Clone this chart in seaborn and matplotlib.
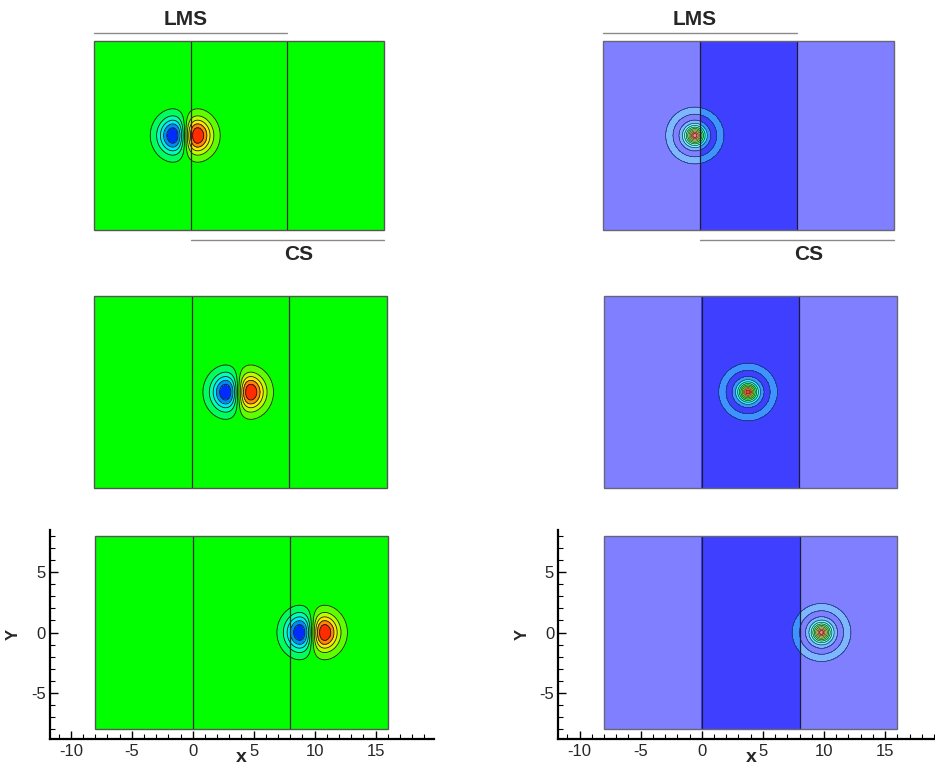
import numpy as np
import matplotlib
matplotlib.use("Agg")
import matplotlib.pyplot as plt
import seaborn as sns
from matplotlib.patches import Rectangle
from matplotlib.ticker import MultipleLocator

# Pulse centre (x) at the three output times, one row each
pulse_x = [-0.45, 3.8, 9.8]
pulse_y = [0.0, 0.0, 0.0]

# Computational domain and the two sub-domain interfaces
domain_x = [-8.0, 16.0]
domain_y = [-8.0, 8.0]
interfaces = [0.0, 8.0]

# Extent of the two solvers' sub-domains
lms_span = [-8.0, 8.0]
cs_span = [0.0, 16.0]
region_labels = ["LMS", "CS"]

x_ticks = [-10, -5, 0, 5, 10, 15]
y_ticks = [-5, 0, 5]

# Pulse shape parameters
dipole_width = 1.46
core_scale = 0.75
ring_amp = 0.15
ring_radius = 2.12
ring_width = 0.35

sns.set_theme(style="ticks")
plt.rcParams["font.family"] = ["Liberation Sans", "DejaVu Sans"]
plt.rcParams["axes.unicode_minus"] = False

rainbow = sns.blend_palette(["#0000ff", "#00ffff", "#00ff00", "#ffff00", "#ff0000"],
                            as_cmap=True)

W, H = 935, 767
fig = plt.figure(figsize=(W / 100, H / 100), dpi=100)

xlim = (-11.74, 19.77)
ylim = (-8.86, 8.53)

# pixel boxes of the domain rectangle for each panel (left, top, right, bottom)
boxes = {
    (0, 0): (94.0, 41.0, 384.0, 230.0),
    (1, 0): (94.3, 296.0, 387.0, 488.3),
    (2, 0): (95.3, 536.0, 387.7, 729.0),
    (0, 1): (603.3, 41.0, 894.3, 230.0),
    (1, 1): (604.0, 296.0, 897.0, 488.0),
    (2, 1): (604.0, 536.0, 897.3, 729.0),
}


def make_axes(box):
    x0, y0, x1, y1 = box
    sx = (x1 - x0) / (domain_x[1] - domain_x[0])
    sy = (y1 - y0) / (domain_y[1] - domain_y[0])
    left = x0 + (xlim[0] - domain_x[0]) * sx
    width = (xlim[1] - xlim[0]) * sx
    top = y0 - (ylim[1] - domain_y[1]) * sy
    height = (ylim[1] - ylim[0]) * sy
    ax = fig.add_axes([left / W, 1 - (top + height) / H, width / W, height / H])
    ax.set_xlim(*xlim)
    ax.set_ylim(*ylim)
    return ax, sy


xg = np.linspace(domain_x[0], domain_x[1], 721)
yg = np.linspace(domain_y[0], domain_y[1], 481)
X, Y = np.meshgrid(xg, yg)

dip_levels = np.linspace(-1, 1, 12)
ring_levels = np.linspace(0, 1, 11)

for row in range(3):
    cx, cy = pulse_x[row], pulse_y[row]
    dx, dy = X - cx, Y - cy
    r = np.hypot(dx, dy)

    # left column: dipole pulse
    ax, sy = make_axes(boxes[(row, 0)])
    f = dx * np.exp(-(dx ** 2 + dy ** 2) / dipole_width ** 2)
    f = f / (dipole_width / np.sqrt(2) * np.exp(-0.5))
    ax.contourf(X, Y, f, levels=dip_levels, cmap=rainbow, vmin=-1, vmax=1)
    ax.contour(X, Y, f, levels=dip_levels, colors="#1a1a1a", linewidths=0.6,
               linestyles="solid")
    for xi in interfaces:
        ax.plot([xi, xi], domain_y, color="#2a2a2a", lw=0.9)
    ax.add_patch(Rectangle((domain_x[0], domain_y[0]), domain_x[1] - domain_x[0],
                           domain_y[1] - domain_y[0], fill=False, ec="#555555",
                           lw=1.0, zorder=5))
    axes_row = [(ax, sy)]

    # right column: amplitude pulse with a weak outer ring
    ax2, sy2 = make_axes(boxes[(row, 1)])
    g = np.exp(-(r / core_scale) ** 1.5) + ring_amp * np.exp(
        -((r - ring_radius) / ring_width) ** 4) + 1e-6
    ax2.contourf(X, Y, g, levels=ring_levels, cmap=rainbow, vmin=0.05, vmax=0.95,
                 alpha=0.5)
    g_mid = np.ma.masked_where((X < interfaces[0]) | (X > interfaces[1]), g)
    ax2.contourf(X, Y, g_mid, levels=ring_levels, cmap=rainbow, vmin=0.05,
                 vmax=0.95, alpha=0.5)
    ax2.contour(X, Y, g, levels=ring_levels[1:], colors="#2c2c48", linewidths=0.45,
                linestyles="solid")
    for xi in interfaces:
        ax2.plot([xi, xi], domain_y, color="#1c1c3a", lw=0.9)
    ax2.add_patch(Rectangle((domain_x[0], domain_y[0]), domain_x[1] - domain_x[0],
                            domain_y[1] - domain_y[0], fill=False, ec="#666677",
                            lw=1.0, zorder=5))
    axes_row.append((ax2, sy2))

    for a, s in axes_row:
        if row < 2:
            a.axis("off")
        else:
            sns.despine(ax=a)
            for side in ("left", "bottom"):
                a.spines[side].set_linewidth(1.6)
                a.spines[side].set_color("black")
            a.set_xticks(x_ticks)
            a.set_yticks(y_ticks)
            a.xaxis.set_minor_locator(MultipleLocator(1))
            a.yaxis.set_minor_locator(MultipleLocator(1))
            a.tick_params(which="major", direction="in", length=6, width=1,
                          labelsize=12, pad=3, color="black")
            a.tick_params(which="minor", direction="in", length=3.5, width=0.8,
                          color="black")
            a.set_xlabel("x", fontsize=14, fontweight="bold", labelpad=-7)
            a.set_ylabel("Y", fontsize=12, fontweight="bold", labelpad=7)

        if row == 0:
            # sub-domain extent markers above and below the first panels
            y_top = domain_y[1] + 8.0 / s
            y_bot = domain_y[0] - 10.0 / s
            a.plot(lms_span, [y_top, y_top], color="#8a8a8a", lw=1.0, clip_on=False)
            a.plot(cs_span, [y_bot, y_bot], color="#8a8a8a", lw=1.0, clip_on=False)
            a.text(-0.45, domain_y[1] + 21.0 / s, region_labels[0], ha="center",
                   va="center", fontsize=15, fontweight="bold", clip_on=False)
            a.text(8.9, domain_y[0] - 25.0 / s, region_labels[1], ha="center",
                   va="center", fontsize=15, fontweight="bold", clip_on=False)

fig.savefig("out.png", dpi=100)
